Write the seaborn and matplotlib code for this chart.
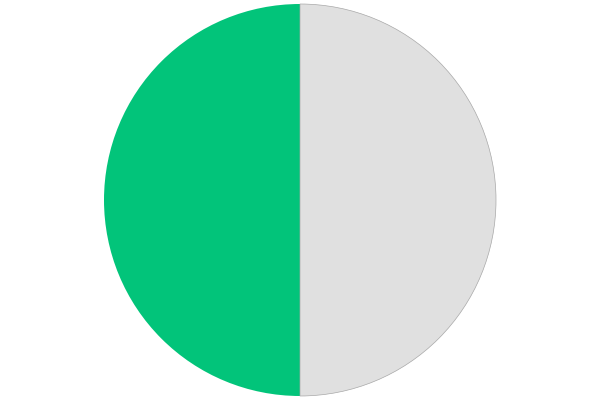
import matplotlib
matplotlib.use("Agg")
import matplotlib.pyplot as plt
import seaborn as sns

sns.set_theme(style="white")

labels = ["完成", "剩余"]
values = [50, 50]
colors = ["#02C47A", "#E0E0E0"]

fig = plt.figure(figsize=(6, 4), dpi=100)
ax = fig.add_axes([0, 0, 1, 1])
wedges, _ = ax.pie(values, colors=colors, startangle=90, counterclock=True,
                   wedgeprops={"linewidth": 0})
wedges[1].set_edgecolor("#A8A8A8")
wedges[1].set_linewidth(0.5)
ax.set_aspect("equal")
ax.set_ylim(-1.0204, 1.0204)
ax.set_xlim(-1.53, 1.53)
ax.axis("off")
fig.savefig("out.png", dpi=100)
